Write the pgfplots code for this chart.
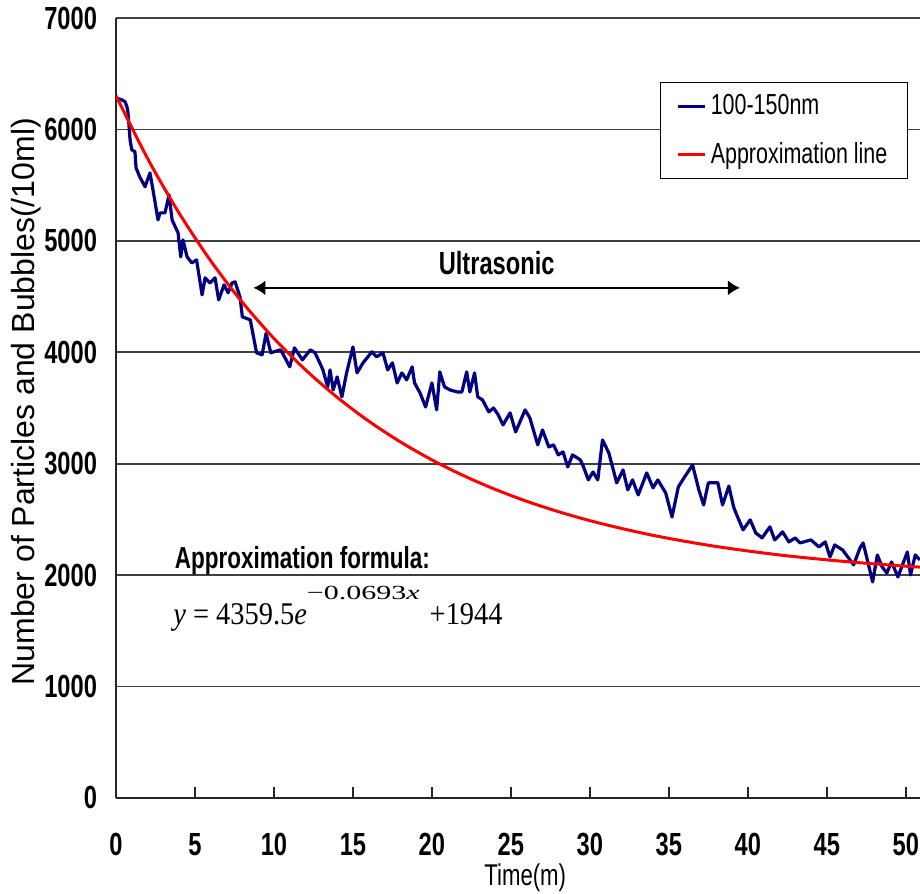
\documentclass[border=0pt]{standalone}
\usepackage{fontspec}
\usepackage{graphicx}
\setmainfont{Liberation Sans}
\newfontfamily\cond[FakeStretch=0.74]{Liberation Sans}
\newfontfamily\serif[FakeStretch=0.9]{Liberation Serif}
\newfontfamily\serifx{Liberation Serif}
\usepackage{pgfplots}
\pgfplotsset{compat=1.18}
\usetikzlibrary{arrows.meta}
\definecolor{navyblue}{RGB}{0,0,128}
\begin{document}
\begin{tikzpicture}
\begin{axis}[
 scale only axis, width=402pt, height=390pt,
 xmin=0, xmax=50.9, ymin=0, ymax=7000,
 axis x line=bottom, axis y line=left,
 axis line style={-, black!85, line width=0.9pt},
 xtick={0,5,...,50}, ytick={0,1000,...,7000},
 ymajorgrids, grid style={black!75, line width=0.9pt},
 tick align=inside,
 xtick style={black!85, line width=0.8pt}, major tick length=5.5pt,
 ytick style={draw=none},
 /pgf/number format/assume math mode=true,
 /pgf/number format/set thousands separator={},
 ticklabel style={font=\cond\bfseries\fontsize{16}{16}\selectfont},
 xticklabel style={yshift=-14pt},
 yticklabel style={xshift=-6pt},
 xlabel={Time(m)}, ylabel={Number of Particles and Bubbles(/10ml)},
 xlabel style={font=\cond\fontsize{15}{15}\selectfont, at={(axis description cs:0.509,-0.1026)}, anchor=center},
 ylabel style={font=\fontsize{16}{16}\selectfont, at={(axis description cs:-0.112,0.508)}, anchor=center},
 legend style={at={(axis description cs:0.985,0.918)}, anchor=north east, draw=black, line width=0.6pt, fill=white, font=\cond\fontsize{14.5}{15}\selectfont, row sep=8.5pt, inner xsep=8pt, inner ysep=4pt},
 legend cell align=left,
 legend image code/.code={\draw[#1, line width=1.5pt] (0pt,0pt) -- (13.5pt,0pt);},
]
\addplot[navyblue, line width=1.6pt, line join=round] coordinates {
(0.0,6280) (0.3,6270) (0.57,6250) (0.7,6200) (0.76,6150) (0.89,5907) (1.0,5817) (1.2,5800)
(1.27,5655) (1.5,5575) (1.84,5485) (2.15,5610) (2.34,5458) (2.66,5188) (2.79,5251) (3.1,5251)
(3.36,5413) (3.55,5188) (3.93,5072) (4.1,4856) (4.24,5009) (4.5,4856) (4.8,4802) (5.1,4829)
(5.45,4515) (5.64,4668) (5.95,4623) (6.27,4668) (6.5,4470) (6.84,4605) (7.1,4533) (7.35,4623)
(7.54,4632) (7.85,4497) (8.0,4318) (8.5,4291) (8.9,3995) (9.25,3977) (9.5,4170) (9.8,3995)
(10.4,4022) (10.5,4004) (11.0,3869) (11.3,4040) (11.8,3932) (12.3,4022) (12.6,3995) (12.9,3905)
(13.1,3842) (13.4,3689) (13.55,3842) (13.75,3662) (14.0,3779) (14.3,3600) (14.6,3815) (15.0,4048)
(15.26,3815) (15.64,3905) (16.2,4004) (16.5,3959) (16.9,3995) (17.2,3842) (17.5,3905) (17.8,3725)
(18.1,3815) (18.4,3752) (18.75,3869) (18.9,3725) (19.25,3635) (19.6,3509) (20.0,3725) (20.3,3483)
(20.5,3824) (20.8,3689) (21.15,3662) (21.6,3644) (21.9,3644) (22.2,3824) (22.4,3644) (22.7,3815)
(22.9,3600) (23.2,3573) (23.6,3465) (23.9,3500) (24.2,3438) (24.5,3348) (24.95,3456) (25.3,3285)
(25.9,3483) (26.2,3411) (26.7,3169) (27.0,3303) (27.4,3151) (27.7,3169) (28.0,3079) (28.3,3106)
(28.6,2971) (28.9,3079) (29.4,3034) (29.6,2971) (29.9,2855) (30.2,2926) (30.5,2855) (30.8,3214)
(31.2,3097) (31.7,2828) (32.1,2944) (32.4,2765) (32.7,2855) (33.06,2720) (33.6,2917) (34.0,2783)
(34.3,2855) (34.8,2738) (35.2,2522) (35.6,2792) (36.0,2882) (36.5,2989) (36.9,2765) (37.2,2630)
(37.5,2828) (38.1,2830) (38.4,2630) (38.8,2800) (39.1,2612) (39.3,2540) (39.7,2406) (40.15,2496)
(40.5,2379) (40.9,2334) (41.4,2433) (41.7,2316) (42.2,2388) (42.6,2298) (43.0,2334) (43.3,2289)
(44.0,2316) (44.5,2253) (44.9,2298) (45.2,2163) (45.5,2271) (46.0,2226) (46.7,2092) (47.1,2244)
(47.3,2289) (47.6,2118) (47.9,1939) (48.2,2181) (48.5,2074) (48.8,2020) (49.1,2118) (49.5,1984)
(50.1,2208) (50.3,2002) (50.6,2181) (50.9,2136)
};
\addlegendentry{100-150nm}
\addplot[red, line width=1.5pt, smooth] coordinates {
(0,6303) (2,5739) (4,5248) (6,4820) (8,4448) (10,4124) (12,3842) (14,3596) (16,3382) (18,3196)
(20,3034) (22,2893) (24,2770) (26,2663) (28,2570) (30,2489) (32,2419) (34,2357) (36,2304)
(38,2257) (40,2217) (42,2181) (44,2151) (46,2124) (48,2101) (50,2080) (51,2071)
};
\addlegendentry{Approximation line}
\node[font=\cond\bfseries\fontsize{16}{16}\selectfont, anchor=base] at (axis cs:24.1,4695) {Ultrasonic};
\draw[{Latex[length=6pt,width=7.5pt]}-{Latex[length=6pt,width=7.5pt]}, line width=1pt] (axis cs:8.7,4578) -- (axis cs:39.5,4578);
\node[font=\cond\bfseries\fontsize{15.2}{16}\selectfont, anchor=base west, inner sep=0pt] at (axis cs:3.7,2060) {Approximation formula:};
\node[anchor=base west, inner sep=0pt, font=\serif\fontsize{15.8}{16}\selectfont] at (axis cs:3.6,1560) {\textit{y} = 4359.5\textit{e}\raisebox{12.5pt}{\scalebox{1.5}[1]{\serifx\fontsize{10}{11}\selectfont −0.0693\textit{x}}}\hspace{5pt}+1944};
\end{axis}
\pgfresetboundingbox
\path[use as bounding box] ([shift={(-58pt,-48pt)}]current axis.south west) rectangle ([shift={(0pt,9pt)}]current axis.north east);
\end{tikzpicture}
\end{document}
